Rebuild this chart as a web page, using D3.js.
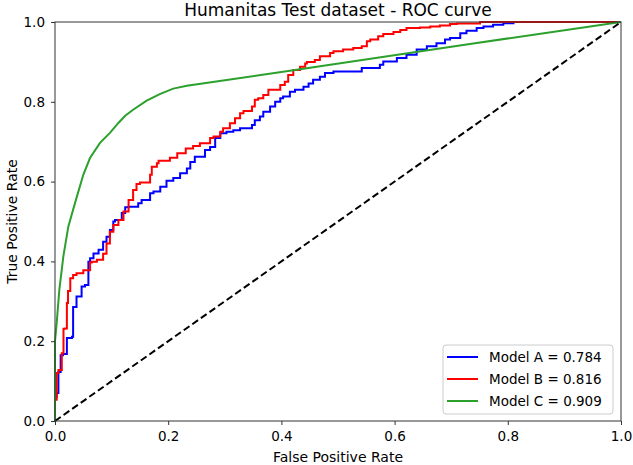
<!DOCTYPE html>
<html>
<head>
<meta charset="utf-8">
<script src="https://cdn.jsdelivr.net/npm/d3@7"></script>
<style>
  body { margin: 0; background: #fff; }
  svg, svg text { font-family: "DejaVu Sans", sans-serif; }
  .tick text { font-size: 13.5px; fill: #000; font-family: "DejaVu Sans", sans-serif; }
</style>
</head>
<body>
<div id="chart"></div>
<script>
const title = "Humanitas Test dataset - ROC curve";
const modelNames = ["Model A", "Model B", "Model C"];
const modelAuc = ["0.784", "0.816", "0.909"];
const modelColors = ["#0000ff", "#ff0000", "#2ca02c"];
const axisTicks = [0, 0.2, 0.4, 0.6, 0.8, 1.0];

// [fpr, tpr]
const modelA = [
  [0, 0], [0, 0.028], [0.003, 0.061], [0.006, 0.070], [0.006, 0.103], [0.010, 0.123],
  [0.014, 0.165], [0.021, 0.168], [0.030, 0.208], [0.032, 0.211], [0.032, 0.278],
  [0.038, 0.286], [0.047, 0.312], [0.053, 0.337], [0.059, 0.341], [0.062, 0.399],
  [0.068, 0.408], [0.077, 0.420], [0.085, 0.429], [0.091, 0.449], [0.097, 0.462],
  [0.103, 0.479], [0.106, 0.500], [0.118, 0.504], [0.124, 0.521], [0.130, 0.536],
  [0.147, 0.537], [0.153, 0.546], [0.168, 0.554], [0.174, 0.571], [0.186, 0.575],
  [0.197, 0.587], [0.209, 0.602], [0.221, 0.609], [0.233, 0.621], [0.239, 0.633],
  [0.247, 0.649], [0.253, 0.662], [0.265, 0.662], [0.274, 0.679], [0.283, 0.687],
  [0.292, 0.709], [0.303, 0.721], [0.315, 0.725], [0.327, 0.729], [0.336, 0.734],
  [0.348, 0.734], [0.353, 0.742], [0.362, 0.754], [0.368, 0.763], [0.380, 0.775],
  [0.389, 0.788], [0.398, 0.800], [0.403, 0.809], [0.415, 0.813], [0.424, 0.825],
  [0.439, 0.830], [0.448, 0.838], [0.456, 0.846], [0.468, 0.855], [0.477, 0.863],
  [0.492, 0.872], [0.509, 0.876], [0.542, 0.876], [0.548, 0.885], [0.574, 0.885],
  [0.580, 0.893], [0.604, 0.901], [0.621, 0.910], [0.639, 0.918], [0.657, 0.931],
  [0.674, 0.939], [0.689, 0.947], [0.698, 0.956], [0.716, 0.960], [0.727, 0.972],
  [0.745, 0.978], [0.757, 0.985], [0.774, 0.989], [0.792, 0.993], [0.810, 0.997],
  [0.857, 1.0], [1, 1]
];

const modelB = [
  [0, 0], [0.003, 0.053], [0.006, 0.120], [0.012, 0.128], [0.015, 0.170], [0.018, 0.231],
  [0.021, 0.232], [0.023, 0.296], [0.027, 0.326], [0.032, 0.358], [0.038, 0.366],
  [0.050, 0.370], [0.062, 0.378], [0.065, 0.397], [0.074, 0.399], [0.085, 0.404],
  [0.091, 0.419], [0.097, 0.445], [0.103, 0.474], [0.112, 0.491], [0.121, 0.504],
  [0.130, 0.525], [0.138, 0.554], [0.144, 0.579], [0.150, 0.594], [0.168, 0.598],
  [0.171, 0.617], [0.180, 0.637], [0.183, 0.646], [0.203, 0.652], [0.216, 0.660],
  [0.231, 0.671], [0.244, 0.683], [0.256, 0.689], [0.274, 0.696], [0.280, 0.709],
  [0.292, 0.713], [0.297, 0.725], [0.309, 0.734], [0.318, 0.746], [0.327, 0.759],
  [0.333, 0.771], [0.348, 0.777], [0.353, 0.788], [0.359, 0.805], [0.368, 0.809],
  [0.377, 0.817], [0.383, 0.830], [0.398, 0.830], [0.406, 0.842], [0.412, 0.850],
  [0.421, 0.867], [0.433, 0.880], [0.442, 0.888], [0.445, 0.896], [0.459, 0.900],
  [0.468, 0.905], [0.486, 0.914], [0.492, 0.922], [0.509, 0.927], [0.527, 0.931],
  [0.542, 0.935], [0.551, 0.939], [0.557, 0.952], [0.571, 0.956], [0.580, 0.964],
  [0.598, 0.970], [0.610, 0.975], [0.621, 0.980], [0.645, 0.985], [0.663, 0.986],
  [0.680, 0.989], [0.698, 0.991], [0.710, 0.995], [0.751, 0.996], [0.786, 1.0], [1, 1]
];

const modelC = [
  [0, 0], [0, 0.200], [0.003, 0.246], [0.0076, 0.328], [0.0147, 0.412], [0.0235, 0.487],
  [0.0353, 0.546], [0.050, 0.617], [0.0618, 0.659], [0.0795, 0.697], [0.097, 0.722],
  [0.112, 0.747], [0.124, 0.765], [0.138, 0.780], [0.162, 0.803], [0.186, 0.820],
  [0.209, 0.833], [0.233, 0.840], [0.415, 0.878], [0.733, 0.945], [1, 1]
];

const chance = [[0, 0], [1, 1]];

const width = 633;
const height = 465;
const margin = { top: 22, right: 12, bottom: 44, left: 55 };
const innerWidth = width - margin.left - margin.right;
const innerHeight = height - margin.top - margin.bottom;

const svg = d3.select("#chart")
  .append("svg")
  .attr("width", width)
  .attr("height", height);

const g = svg.append("g")
  .attr("transform", `translate(${margin.left},${margin.top})`);

const x = d3.scaleLinear().domain([0, 1]).range([0, innerWidth]);
const y = d3.scaleLinear().domain([0, 1]).range([innerHeight, 0]);

const stepLine = d3.line()
  .x(d => x(d[0]))
  .y(d => y(d[1]))
  .curve(d3.curveStepBefore);

const smoothLine = d3.line()
  .x(d => x(d[0]))
  .y(d => y(d[1]));

svg.append("defs")
  .append("clipPath")
  .attr("id", "clip")
  .append("rect")
  .attr("x", -2)
  .attr("y", -2)
  .attr("width", innerWidth + 4)
  .attr("height", innerHeight + 4);

const plot = g.append("g").attr("clip-path", "url(#clip)");

plot.append("path")
  .attr("d", stepLine(modelA))
  .attr("fill", "none")
  .attr("stroke", modelColors[0])
  .attr("stroke-width", 2);

plot.append("path")
  .attr("d", stepLine(modelB))
  .attr("fill", "none")
  .attr("stroke", modelColors[1])
  .attr("stroke-width", 2);

plot.append("path")
  .attr("d", smoothLine(modelC))
  .attr("fill", "none")
  .attr("stroke", modelColors[2])
  .attr("stroke-width", 2);

plot.append("path")
  .attr("d", smoothLine(chance))
  .attr("fill", "none")
  .attr("stroke", "#000")
  .attr("stroke-width", 2)
  .attr("stroke-dasharray", "7,3.5");

// axes
const fmt = d3.format(".1f");
const xAxis = g.append("g")
  .attr("transform", `translate(0,${innerHeight})`)
  .call(d3.axisBottom(x).tickValues(axisTicks).tickFormat(fmt).tickSize(4).tickPadding(6));

const yAxis = g.append("g")
  .call(d3.axisLeft(y).tickValues(axisTicks).tickFormat(fmt).tickSize(4).tickPadding(6));

[xAxis, yAxis].forEach(a => {
  a.attr("font-family", null).attr("font-size", null);
  a.select(".domain").remove();
  a.selectAll(".tick line").attr("stroke", "#333").attr("stroke-width", 1);
});

g.append("rect")
  .attr("width", innerWidth)
  .attr("height", innerHeight)
  .attr("fill", "none")
  .attr("stroke", "#333")
  .attr("stroke-width", 1);

svg.append("text")
  .attr("x", margin.left + innerWidth / 2)
  .attr("y", 16)
  .attr("text-anchor", "middle")
  .style("font-size", "17px")
  .text(title);

svg.append("text")
  .attr("x", margin.left + innerWidth / 2)
  .attr("y", 462)
  .attr("text-anchor", "middle")
  .style("font-size", "14px")
  .text("False Positive Rate");

svg.append("text")
  .attr("transform", "rotate(-90)")
  .attr("x", -(margin.top + innerHeight / 2))
  .attr("y", 17)
  .attr("text-anchor", "middle")
  .style("font-size", "14px")
  .text("True Positive Rate");

// legend
const legend = svg.append("g")
  .attr("transform", "translate(443,345)");

legend.append("rect")
  .attr("width", 170)
  .attr("height", 69)
  .attr("rx", 3)
  .attr("fill", "#fff")
  .attr("fill-opacity", 0.8)
  .attr("stroke", "#ccc");

modelNames.forEach((name, i) => {
  const row = legend.append("g")
    .attr("transform", `translate(0, ${12 + i * 22})`);

  row.append("line")
    .attr("x1", 4)
    .attr("x2", 35)
    .attr("y1", 0)
    .attr("y2", 0)
    .attr("stroke", modelColors[i])
    .attr("stroke-width", 2);

  row.append("text")
    .attr("x", 46)
    .attr("y", 5)
    .style("font-size", "13.5px")
    .text(`${name} = ${modelAuc[i]}`);
});
</script>
</body>
</html>
